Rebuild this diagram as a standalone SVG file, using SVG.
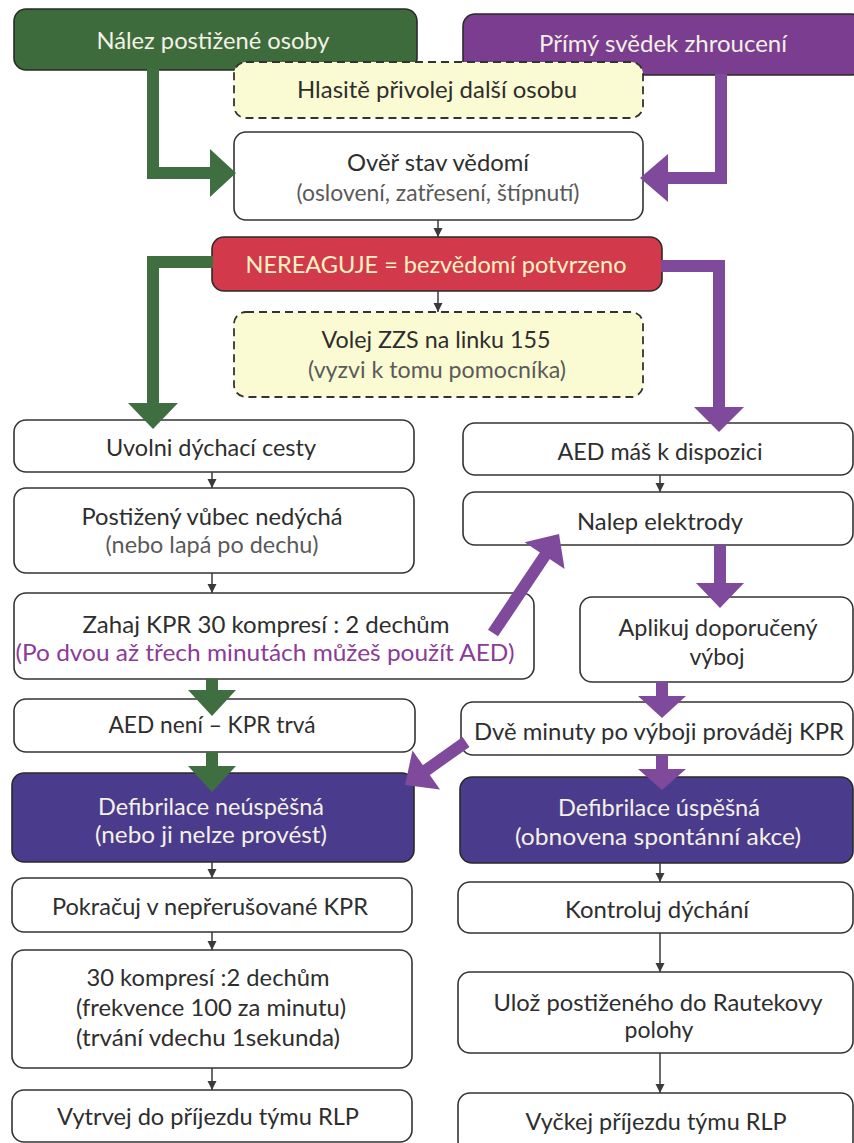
<svg xmlns="http://www.w3.org/2000/svg" width="854" height="1143" viewBox="0 0 854 1143">
  <style>
    text { font-family: Lato, "Open Sans", "Noto Sans", sans-serif; font-size: 23px; text-anchor: middle; }
    .box { fill: #ffffff; stroke: #333333; stroke-width: 1.6; }
    .dash { fill: #fbfbd3; stroke: #333333; stroke-width: 1.8; stroke-dasharray: 8 5; }
    .green { fill: #3d6b3c; stroke: #2a2a2a; stroke-width: 1.6; }
    .purple { fill: #7b3d8f; stroke: #2a2a2a; stroke-width: 1.6; }
    .red { fill: #d23a4b; stroke: #2a2a2a; stroke-width: 1.6; }
    .indigo { fill: #4a3b8d; stroke: #2a2a2a; stroke-width: 1.6; }
    .t { fill: #2e2e2e; }
    .sub { fill: #5a5a5a; }
    .light { fill: #f3f1e6; }
    .warn { fill: #fff3c4; }
    .violet { fill: #8b3b98; }
    .thin { stroke: #3a3a3a; stroke-width: 1.5; fill: none; marker-end: url(#tip); }
    .gshaft { stroke: #3f6e41; stroke-width: 12; fill: none; stroke-linejoin: miter; }
    .pshaft { stroke: #7f4a9c; stroke-width: 12; fill: none; stroke-linejoin: miter; }
    .ghead { fill: #3f6e41; }
    .phead { fill: #7f4a9c; }
  </style>
  <defs>
    <marker id="tip" viewBox="0 0 10 10" refX="10" refY="5" markerWidth="9" markerHeight="10" markerUnits="userSpaceOnUse" orient="auto">
      <path d="M0,0 L10,5 L0,10 z" fill="#3a3a3a"/>
    </marker>
  </defs>

  <rect width="854" height="1143" fill="#ffffff"/>

  <!-- top entry boxes -->
  <g id="n-nalez">
    <rect class="green" x="14" y="9" width="403" height="61" rx="12"/>
    <text class="light" x="213" y="49" textLength="233" lengthAdjust="spacingAndGlyphs">Nález postižené osoby</text>
  </g>
  <g id="n-svedek">
    <rect class="purple" x="463" y="14" width="400" height="61" rx="12"/>
    <text class="light" x="663" y="52" textLength="248" lengthAdjust="spacingAndGlyphs">Přímý svědek zhroucení</text>
  </g>
  <g id="n-privolej">
    <rect class="dash" x="234" y="62" width="409" height="56" rx="12"/>
    <text class="t" x="437" y="98" textLength="280" lengthAdjust="spacingAndGlyphs">Hlasitě přivolej další osobu</text>
  </g>
  <g id="n-over">
    <rect class="box" x="234" y="132" width="409" height="88" rx="12"/>
    <text class="t" x="438" y="171" textLength="182" lengthAdjust="spacingAndGlyphs">Ověř stav vědomí</text>
    <text class="sub" x="438" y="201" textLength="283" lengthAdjust="spacingAndGlyphs">(oslovení, zatřesení, štípnutí)</text>
  </g>
  <g id="n-nereaguje">
    <rect class="red" x="212" y="237" width="450" height="54" rx="12"/>
    <text class="warn" x="436" y="273" textLength="381" lengthAdjust="spacingAndGlyphs">NEREAGUJE = bezvědomí potvrzeno</text>
  </g>
  <g id="n-volej">
    <rect class="dash" x="234" y="312" width="409" height="85" rx="12"/>
    <text class="t" x="436" y="348" textLength="229" lengthAdjust="spacingAndGlyphs">Volej ZZS na linku 155</text>
    <text class="sub" x="437" y="378" textLength="258" lengthAdjust="spacingAndGlyphs">(vyzvi k tomu pomocníka)</text>
  </g>

  <!-- left column -->
  <g id="n-uvolni">
    <rect class="box" x="14" y="420" width="400" height="52" rx="12"/>
    <text class="t" x="211" y="456" textLength="210" lengthAdjust="spacingAndGlyphs">Uvolni dýchací cesty</text>
  </g>
  <g id="n-nedycha">
    <rect class="box" x="14" y="488" width="400" height="85" rx="12"/>
    <text class="t" x="212" y="525" textLength="261" lengthAdjust="spacingAndGlyphs">Postižený vůbec nedýchá</text>
    <text class="sub" x="212" y="553" textLength="213" lengthAdjust="spacingAndGlyphs">(nebo lapá po dechu)</text>
  </g>
  <g id="n-zahaj">
    <rect class="box" x="14" y="593" width="520" height="86" rx="12"/>
    <text class="t" x="266" y="633" textLength="367" lengthAdjust="spacingAndGlyphs">Zahaj KPR 30 kompresí : 2 dechům</text>
    <text class="violet" x="265" y="661" textLength="499" lengthAdjust="spacingAndGlyphs">(Po dvou až třech minutách můžeš použít AED)</text>
  </g>
  <g id="n-aed-neni">
    <rect class="box" x="14" y="699" width="401" height="53" rx="12"/>
    <text class="t" x="212" y="733" textLength="207" lengthAdjust="spacingAndGlyphs">AED není – KPR trvá</text>
  </g>
  <g id="n-neuspesna">
    <rect class="indigo" x="12" y="773" width="402" height="89" rx="12"/>
    <text class="light" x="211" y="815" textLength="226" lengthAdjust="spacingAndGlyphs">Defibrilace neúspěšná</text>
    <text class="light" x="211" y="843" textLength="232" lengthAdjust="spacingAndGlyphs">(nebo ji nelze provést)</text>
  </g>
  <g id="n-pokracuj">
    <rect class="box" x="12" y="878" width="400" height="54" rx="12"/>
    <text class="t" x="210" y="915" textLength="316" lengthAdjust="spacingAndGlyphs">Pokračuj v nepřerušované KPR</text>
  </g>
  <g id="n-komprese">
    <rect class="box" x="12" y="950" width="400" height="118" rx="12"/>
    <text class="t" x="208" y="986" textLength="243" lengthAdjust="spacingAndGlyphs">30 kompresí :2 dechům</text>
    <text class="t" x="211" y="1016" textLength="270" lengthAdjust="spacingAndGlyphs">(frekvence 100 za minutu)</text>
    <text class="t" x="208" y="1046" textLength="264" lengthAdjust="spacingAndGlyphs">(trvání vdechu 1sekunda)</text>
  </g>
  <g id="n-vytrvej">
    <rect class="box" x="12" y="1090" width="400" height="52" rx="12"/>
    <text class="t" x="208" y="1125" textLength="302" lengthAdjust="spacingAndGlyphs">Vytrvej do příjezdu týmu RLP</text>
  </g>

  <!-- right column -->
  <g id="n-aed-mas">
    <rect class="box" x="463" y="423" width="390" height="52" rx="12"/>
    <text class="t" x="660" y="460" textLength="205" lengthAdjust="spacingAndGlyphs">AED máš k dispozici</text>
  </g>
  <g id="n-elektrody">
    <rect class="box" x="463" y="492" width="390" height="53" rx="12"/>
    <text class="t" x="660" y="530" textLength="166" lengthAdjust="spacingAndGlyphs">Nalep elektrody</text>
  </g>
  <g id="n-vyboj">
    <rect class="box" x="580" y="597" width="273" height="85" rx="12"/>
    <text class="t" x="718" y="636" textLength="199" lengthAdjust="spacingAndGlyphs">Aplikuj doporučený</text>
    <text class="t" x="717" y="665">výboj</text>
  </g>
  <g id="n-dve-minuty">
    <rect class="box" x="461" y="702" width="392" height="53" rx="12"/>
    <text class="t" x="659" y="740" textLength="370" lengthAdjust="spacingAndGlyphs">Dvě minuty po výboji prováděj KPR</text>
  </g>
  <g id="n-uspesna">
    <rect class="indigo" x="460" y="777" width="393" height="86" rx="12"/>
    <text class="light" x="659" y="816" textLength="202" lengthAdjust="spacingAndGlyphs">Defibrilace úspěšná</text>
    <text class="light" x="658" y="845" textLength="286" lengthAdjust="spacingAndGlyphs">(obnovena spontánní akce)</text>
  </g>
  <g id="n-kontroluj">
    <rect class="box" x="458" y="882" width="395" height="51" rx="12"/>
    <text class="t" x="657" y="918" textLength="184" lengthAdjust="spacingAndGlyphs">Kontroluj dýchání</text>
  </g>
  <g id="n-uloz">
    <rect class="box" x="458" y="972" width="395" height="81" rx="12"/>
    <text class="t" x="658" y="1011" textLength="329" lengthAdjust="spacingAndGlyphs">Ulož postiženého do Rautekovy</text>
    <text class="t" x="659" y="1038">polohy</text>
  </g>
  <g id="n-vyckej">
    <rect class="box" x="458" y="1093" width="395" height="60" rx="12"/>
    <text class="t" x="656" y="1130" textLength="261" lengthAdjust="spacingAndGlyphs">Vyčkej příjezdu týmu RLP</text>
  </g>

  <!-- connectors -->
  <g id="connectors">
    <!-- thin flow arrows -->
    <line class="thin" x1="438" y1="220" x2="438" y2="237"/>
    <line class="thin" x1="438" y1="291" x2="438" y2="312"/>
    <line class="thin" x1="212" y1="472" x2="212" y2="488"/>
    <line class="thin" x1="212" y1="573" x2="212" y2="593"/>
    <line class="thin" x1="660" y1="475" x2="660" y2="492"/>
    <line class="thin" x1="212" y1="862" x2="212" y2="878"/>
    <line class="thin" x1="212" y1="932" x2="212" y2="950"/>
    <line class="thin" x1="212" y1="1068" x2="212" y2="1090"/>
    <line class="thin" x1="660" y1="863" x2="660" y2="882"/>
    <line class="thin" x1="660" y1="933" x2="660" y2="972"/>
    <line class="thin" x1="660" y1="1053" x2="660" y2="1093"/>

    <!-- green path -->
    <polyline class="gshaft" points="153,69 153,173 212,173"/>
    <polygon class="ghead" points="210,149 236,173 210,197"/>
    <polyline class="gshaft" points="213,262 153,262 153,405"/>
    <polygon class="ghead" points="128,403 153,429 178,403"/>
    <line class="gshaft" x1="212" y1="679" x2="212" y2="692"/>
    <polygon class="ghead" points="188,690 212,716 236,690"/>
    <line class="gshaft" x1="212" y1="752" x2="212" y2="768"/>
    <polygon class="ghead" points="188,766 212,792 236,766"/>

    <!-- purple path -->
    <polyline class="pshaft" points="721,74 721,178 666,178"/>
    <polygon class="phead" points="668,154 640,178 668,202"/>
    <polyline class="pshaft" points="661,266 719,266 719,409"/>
    <polygon class="phead" points="694,407 719,432 744,407"/>
    <line class="pshaft" x1="720" y1="545" x2="720" y2="585"/>
    <polygon class="phead" points="696,583 720,608 744,583"/>
    <line class="pshaft" x1="662" y1="682" x2="662" y2="698"/>
    <polygon class="phead" points="638,696 662,718 686,696"/>
    <line class="pshaft" x1="662" y1="755" x2="662" y2="771"/>
    <polygon class="phead" points="638,769 662,790 686,769"/>
    <line class="pshaft" x1="493" y1="633" x2="546" y2="554"/>
    <polygon class="phead" points="524.6,542.3 559,534 564.6,568.9"/>
    <line class="pshaft" x1="466" y1="742" x2="425" y2="771"/>
    <polygon class="phead" points="440,789.6 405,785 412.5,750.4"/>
  </g>
</svg>
